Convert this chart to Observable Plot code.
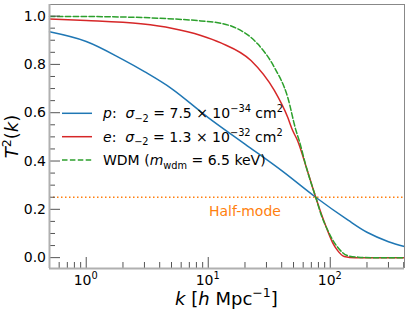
<!DOCTYPE html>
<html><head><meta charset="utf-8">
<script src="https://cdn.jsdelivr.net/npm/d3@7"></script>
<script src="https://cdn.jsdelivr.net/npm/@observablehq/plot@0.6"></script>
<style>
body{margin:0;background:#fff}
svg{font-family:"DejaVu Sans",sans-serif}
</style>
</head><body><div id="chart"></div>
<script>
// ---- data ----
const kP = [0.5, 1, 2, 3, 5, 10, 20, 40, 76, 140, 200, 300, 405];
const tP = [0.935, 0.895, 0.82, 0.77, 0.70, 0.58, 0.47, 0.36, 0.25, 0.155, 0.105, 0.066, 0.046];

const kE = [0.5, 1, 2.8, 5, 8.7, 12.7, 22.4, 34.8, 44.8, 49.2, 54, 64, 76, 86, 95, 105, 115, 130, 160, 250, 405];
const tE = [0.988, 0.982, 0.968, 0.95, 0.92, 0.889, 0.816, 0.692, 0.581, 0.526, 0.484, 0.37, 0.25, 0.17, 0.112, 0.06, 0.029, 0.005, 0.0, 0.0, 0.0];

const kW = [0.5, 1, 5.3, 8.7, 12.7, 16.3, 25.4, 34.8, 44.8, 52.4, 55.7, 64, 76, 86, 95, 105, 115, 139, 170, 220, 300, 405];
const tW = [0.998, 0.998, 0.988, 0.98, 0.97, 0.954, 0.885, 0.788, 0.664, 0.526, 0.484, 0.37, 0.25, 0.165, 0.115, 0.072, 0.043, 0.008, 0.002, 0.0, 0.0, 0.0];

const halfMode = [0.25];
const halfModeLabel = [{k: 20, t: 0.19, text: "Half-mode"}];

const xTicks = [1, 10, 100];
const xTickExp = ["0", "1", "2"];
const xMinor = [0.5,0.6,0.7,0.8,0.9, 2,3,4,5,6,7,8,9, 20,30,40,50,60,70,80,90, 200,300,400];
const yTicks = [0.0, 0.2, 0.4, 0.6, 0.8, 1.0];
const yMinor = [0.05,0.1,0.15,0.25,0.3,0.35,0.45,0.5,0.55,0.65,0.7,0.75,0.85,0.9,0.95];

const seriesNames = ["p", "e", "WDM"];
const seriesColors = ["#1f77b4", "#d62728", "#2ca02c"];
const halfColor = "#ff7f0e";

// legend rich-text segments: [text, style]  style: i=italic, sub, sup
const legendText = [
  [["p","i"],[":  "],["σ","i"],["−2","sub"],[" = 7.5 × 10"],["−34","sup"],[" cm"],["2","sup"]],
  [["e","i"],[":  "],["σ","i"],["−2","sub"],[" = 1.3 × 10"],["−32","sup"],[" cm"],["2","sup"]],
  [["WDM ("],["m","i"],["wdm","sub"],[" = 6.5 keV)"]]
];
const xLabel = [["k","i"],[" ["],["h","i"],[" Mpc"],["−1","sup"],["]"]];
const yLabel = [["T","i"],["2","sup"],["("],["k","i"],[")"]];

// ---- layout ----
const W = 407, H = 313, mL = 49, mR = 3, mT = 4, mB = 45;
const fw = W - mL - mR, fh = H - mT - mB;
const xDomain = [0.5, 406], yDomain = [-0.045, 1.048];
const tickColor = "#555";

const toRows = (ks, ts, name) => ks.map((k, i) => ({k, t: ts[i], name}));
const dataP = toRows(kP, tP, "p"), dataE = toRows(kE, tE, "e"), dataW = toRows(kW, tW, "WDM");

const plot = Plot.plot({
  width: W, height: H,
  marginLeft: mL, marginRight: mR, marginTop: mT, marginBottom: mB,
  style: {fontFamily: "DejaVu Sans", fontSize: "14px", background: "white", color: "black", overflow: "visible"},
  x: {type: "log", domain: xDomain, axis: null},
  y: {domain: yDomain},
  marks: [
    Plot.ruleY(halfMode, {y: d => d, stroke: halfColor, strokeWidth: 1.5, strokeDasharray: "1.5,2.5"}),
    Plot.line(dataP, {x: "k", y: "t", stroke: seriesColors[0], strokeWidth: 1.5, curve: "catmull-rom"}),
    Plot.line(dataE, {x: "k", y: "t", stroke: seriesColors[1], strokeWidth: 1.5, curve: "monotone-x"}),
    Plot.line(dataW, {x: "k", y: "t", stroke: seriesColors[2], strokeWidth: 1.5, strokeDasharray: "5.5,2.4", curve: "monotone-x"}),
    Plot.text(halfModeLabel, {x: "k", y: "t", text: "text", fill: halfColor, fontSize: 14, textAnchor: "middle"}),
    // inward ticks
    Plot.tickX(xTicks, {x: d => d, stroke: tickColor, insetTop: fh - 11}),
    Plot.tickX(xMinor, {x: d => d, stroke: tickColor, insetTop: fh - 6}),
    Plot.tickY(yTicks, {y: d => d, stroke: tickColor, insetRight: fw - 11}),
    Plot.tickY(yMinor, {y: d => d, stroke: tickColor, insetRight: fw - 6}),
    Plot.axisY(yTicks, {tickSize: 0, tickPadding: 3.5, fontSize: 14, tickFormat: d3.format(".1f"), label: null}),
    // spines
    Plot.ruleX([xDomain[1]], {stroke: "#888", strokeWidth: 1}),
    Plot.ruleY([yDomain[1]], {stroke: "#888", strokeWidth: 1}),
    Plot.ruleX([xDomain[0]], {stroke: "#b0b0b0", strokeWidth: 2}),
    Plot.ruleY([yDomain[0]], {stroke: "#b0b0b0", strokeWidth: 2})
  ]
});
document.getElementById("chart").appendChild(plot);

// ---- rich text helper ----
function richText(sel, segs, size, supShift = 0.42) {
  const t = sel.append("text").attr("font-size", size).attr("fill", "black");
  let shift = 0;
  segs.forEach(([s, st]) => {
    const ts = t.append("tspan").text(s);
    let target = 0;
    if (st === "sub") target = 0.25 * size;
    if (st === "sup") target = -supShift * size;
    ts.attr("dy", target - shift);
    shift = target;
    if (st === "sub" || st === "sup") ts.attr("font-size", 0.7 * size);
    if (st === "i") ts.attr("font-style", "italic");
  });
  return t;
}

const svg = d3.select(plot);
const xs = plot.scale("x");
// x tick labels (10^n) placed with the plot's x scale
const xl = svg.append("g").attr("text-anchor", "middle");
xTicks.forEach((d, i) => {
  richText(xl, [["10"], [xTickExp[i], "sup"]], 14, 0.45)
    .attr("x", xs.apply(d)).attr("y", 285).attr("text-anchor", "middle");
});
// legend
const lg = svg.append("g").attr("text-anchor", "start");
const rowY = [113.3, 136.7, 160];
seriesNames.forEach((n, i) => {
  const y = rowY[i];
  lg.append("line").attr("x1", 62).attr("x2", 92).attr("y1", y).attr("y2", y)
    .attr("stroke", seriesColors[i]).attr("stroke-width", 1.5)
    .attr("stroke-dasharray", n === "WDM" ? "5.5,2.4" : null);
  richText(lg, legendText[i], 14).attr("x", 103).attr("y", y + 5).attr("text-anchor", "start");
});
// axis labels
richText(svg, xLabel, 18).attr("x", 226.5).attr("y", 305).attr("text-anchor", "middle");
richText(svg, yLabel, 18, 0.38).attr("text-anchor", "middle")
  .attr("transform", "translate(18,136.5) rotate(-90)");
</script>
</body></html>
